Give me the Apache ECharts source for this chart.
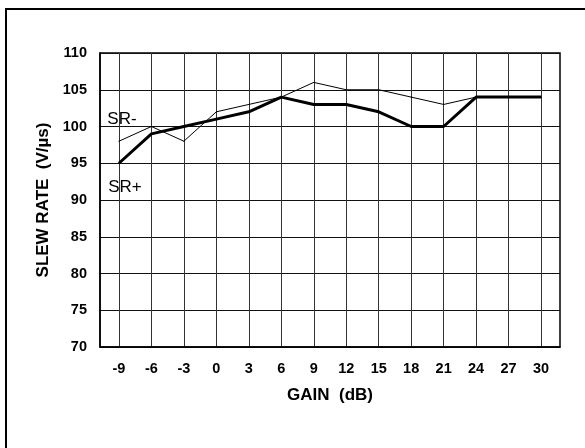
<!DOCTYPE html>
<html>
<head>
<meta charset="utf-8">
<script src="https://cdn.jsdelivr.net/npm/echarts@6/dist/echarts.min.js"></script>
<style>
html,body{margin:0;padding:0;background:#fff;overflow:hidden;width:585px;height:448px;}
#frame{position:absolute;left:5px;top:8px;width:600px;height:460px;border-left:2px solid #000;border-top:2px solid #000;box-sizing:border-box;}
#chart{position:absolute;left:0;top:0;width:585px;height:448px;}
</style>
</head>
<body>
<div id="frame"></div>
<div id="chart"></div>
<script>
const gainTicks = [-9, -6, -3, 0, 3, 6, 9, 12, 15, 18, 21, 24, 27, 30];
const srPlus  = [95, 99, 100, 101, 102, 104, 103, 103, 102, 100, 100, 104, 104, 104];
const srMinus = [98, 100, 98, 102, 103, 104, 106, 105, 105, 104, 103, 104, 104, 104];

const FONT = "'Liberation Sans', Arial, sans-serif";

function toData(vals, labelText, offset) {
  return vals.map((v, i) => {
    const item = { value: [gainTicks[i], v] };
    if (i === 0) {
      item.label = {
        show: true, formatter: labelText, position: 'inside', offset: offset,
        fontFamily: FONT, fontSize: 17, color: '#000', fontWeight: 'normal'
      };
    }
    return item;
  });
}

const chart = echarts.init(document.getElementById('chart'), null, { renderer: 'canvas' });
chart.setOption({
  animation: false,
  backgroundColor: 'transparent',
  grid: { left: 100, right: 25, top: 53, bottom: 101, show: true, borderColor: '#000', borderWidth: 1.5, containLabel: false },
  xAxis: {
    type: 'value', min: -10.75, max: 31.75,
    name: 'GAIN  (dB)', nameLocation: 'middle', nameGap: 40,
    nameTextStyle: { fontFamily: FONT, fontSize: 17, fontWeight: 'bold', color: '#000' },
    axisLine: { show: true, onZero: false, lineStyle: { color: '#000', width: 1.5 } },
    axisTick: { show: false, customValues: gainTicks },
    axisLabel: { customValues: gainTicks, fontFamily: FONT, fontSize: 14.5, fontWeight: 'bold', color: '#000', margin: 14 },
    splitLine: { show: true, lineStyle: { color: '#333', width: 1 } }
  },
  yAxis: {
    type: 'value', min: 70, max: 110, interval: 5,
    name: 'SLEW RATE  (V/µs)', nameLocation: 'middle', nameGap: 48,
    nameTextStyle: { fontFamily: FONT, fontSize: 17, fontWeight: 'bold', color: '#000' },
    axisLine: { show: true, onZero: false, lineStyle: { color: '#000', width: 1.5 } },
    axisTick: { show: false },
    axisLabel: { fontFamily: FONT, fontSize: 14.5, fontWeight: 'bold', color: '#000', margin: 13 },
    splitLine: { show: true, lineStyle: { color: '#111', width: 1 } }
  },
  series: [
    {
      name: 'SR-', type: 'line', data: toData(srMinus, 'SR-', [3, -22]),
      symbol: 'circle', symbolSize: 1, itemStyle: { color: '#000' },
      lineStyle: { color: '#000', width: 1 }, z: 3
    },
    {
      name: 'SR+', type: 'line', data: toData(srPlus, 'SR+', [6, 24]),
      symbol: 'circle', symbolSize: 1, itemStyle: { color: '#000' },
      lineStyle: { color: '#000', width: 3 }, z: 4
    }
  ]
});
</script>
</body>
</html>
